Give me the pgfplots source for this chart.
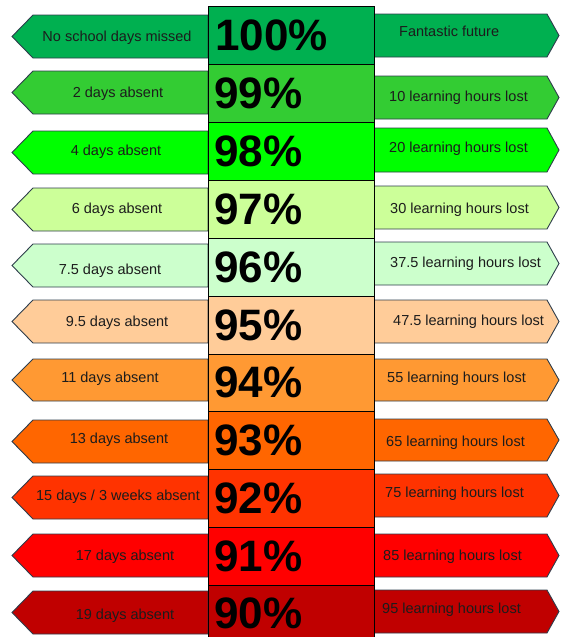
\documentclass[border=0pt]{standalone}
\usepackage{pgfplots}
\pgfplotsset{compat=1.18}
\usepackage{fontspec}
\setmainfont{Liberation Sans}
\definecolor{c0}{HTML}{00B050}
\definecolor{c1}{HTML}{33CC33}
\definecolor{c2}{HTML}{00FF00}
\definecolor{c3}{HTML}{CCFF99}
\definecolor{c4}{HTML}{CCFFCC}
\definecolor{c5}{HTML}{FFCC99}
\definecolor{c6}{HTML}{FF9933}
\definecolor{c7}{HTML}{FF6600}
\definecolor{c8}{HTML}{FF3300}
\definecolor{c9}{HTML}{FF0000}
\definecolor{c10}{HTML}{C00000}
\definecolor{edge}{HTML}{2E3D4C}
\definecolor{txt}{HTML}{1C1C1C}
\tikzset{
  larr/.style={draw=edge, line width=0.9pt},
  cbox/.style={draw=black, line width=0.9pt},
  ltxt/.style={font=\fontsize{14.5}{15}\selectfont, text=txt, anchor=center, inner sep=0pt, text height=1.5ex, text depth=0.35ex, yshift=-1.8pt},
  rtxt/.style={font=\fontsize{14.5}{15}\selectfont, text=txt, anchor=west, inner sep=0pt, text height=1.5ex, text depth=0.35ex, yshift=-1.8pt},
  ptxt/.style={font=\fontsize{44}{44}\selectfont\bfseries, text=black, anchor=west, inner sep=0pt},
}
\begin{document}
\begin{tikzpicture}
\begin{axis}[
  width=560pt, height=637pt, scale only axis,
  xmin=0, xmax=560, ymin=0, ymax=637, y dir=reverse,
  hide axis, clip=true,
]
% ---- left arrows (days absent)
\addplot[larr, fill=c0]  coordinates {(12,36.5) (33,15) (208,15) (208,58) (33,58)} --cycle;
\addplot[larr, fill=c1]  coordinates {(12,92.5) (33,71) (208,71) (208,114) (33,114)} --cycle;
\addplot[larr, fill=c2]  coordinates {(12,152.5) (33,131) (208,131) (208,174) (33,174)} --cycle;
\addplot[larr, fill=c3]  coordinates {(12,209.5) (33,188) (208,188) (208,231) (33,231)} --cycle;
\addplot[larr, fill=c4]  coordinates {(12,265.5) (33,244) (208,244) (208,287) (33,287)} --cycle;
\addplot[larr, fill=c5]  coordinates {(12,321.5) (33,300) (208,300) (208,343) (33,343)} --cycle;
\addplot[larr, fill=c6]  coordinates {(12,380) (33,359) (208,359) (208,401) (33,401)} --cycle;
\addplot[larr, fill=c7]  coordinates {(12,441.5) (33,420) (208,420) (208,463) (33,463)} --cycle;
\addplot[larr, fill=c8]  coordinates {(12,497.5) (33,476) (208,476) (208,519) (33,519)} --cycle;
\addplot[larr, fill=c9]  coordinates {(12,555.5) (33,534) (208,534) (208,577) (33,577)} --cycle;
\addplot[larr, fill=c10] coordinates {(12,612.5) (33,591) (208,591) (208,634) (33,634)} --cycle;
% ---- right arrows (learning hours lost)
\addplot[larr, fill=c0]  coordinates {(374,14) (547,14) (559,35.5) (547,57) (374,57)} --cycle;
\addplot[larr, fill=c1]  coordinates {(374,76) (547,76) (559,97.5) (547,119) (374,119)} --cycle;
\addplot[larr, fill=c2]  coordinates {(374,128) (547,128) (559,150) (547,172) (374,172)} --cycle;
\addplot[larr, fill=c3]  coordinates {(374,186) (547,186) (559,207.5) (547,229) (374,229)} --cycle;
\addplot[larr, fill=c4]  coordinates {(374,242) (547,242) (559,263.5) (547,285) (374,285)} --cycle;
\addplot[larr, fill=c5]  coordinates {(374,300) (547,300) (559,321.5) (547,343) (374,343)} --cycle;
\addplot[larr, fill=c6]  coordinates {(374,359) (547,359) (559,380) (547,401) (374,401)} --cycle;
\addplot[larr, fill=c7]  coordinates {(374,419) (547,419) (559,440) (547,461) (374,461)} --cycle;
\addplot[larr, fill=c8]  coordinates {(374,474) (547,474) (559,495.5) (547,517) (374,517)} --cycle;
\addplot[larr, fill=c9]  coordinates {(374,534) (547,534) (559,555.5) (547,577) (374,577)} --cycle;
\addplot[larr, fill=c10] coordinates {(374,590) (547,590) (559,611.5) (547,633) (374,633)} --cycle;
% ---- central attendance boxes
\addplot[cbox, fill=c0]  coordinates {(208,6) (374,6) (374,64) (208,64)} --cycle;
\addplot[cbox, fill=c1]  coordinates {(208,64) (374,64) (374,122) (208,122)} --cycle;
\addplot[cbox, fill=c2]  coordinates {(208,122) (374,122) (374,180) (208,180)} --cycle;
\addplot[cbox, fill=c3]  coordinates {(208,180) (374,180) (374,238) (208,238)} --cycle;
\addplot[cbox, fill=c4]  coordinates {(208,238) (374,238) (374,296) (208,296)} --cycle;
\addplot[cbox, fill=c5]  coordinates {(208,296) (374,296) (374,354) (208,354)} --cycle;
\addplot[cbox, fill=c6]  coordinates {(208,354) (374,354) (374,411) (208,411)} --cycle;
\addplot[cbox, fill=c7]  coordinates {(208,411) (374,411) (374,469) (208,469)} --cycle;
\addplot[cbox, fill=c8]  coordinates {(208,469) (374,469) (374,527) (208,527)} --cycle;
\addplot[cbox, fill=c9]  coordinates {(208,527) (374,527) (374,585) (208,585)} --cycle;
\addplot[cbox, fill=c10] coordinates {(208,585) (374,585) (374,643) (208,643)} --cycle;
% ---- percentages
\node[ptxt] at (axis cs:215,35) {100\%};
\node[ptxt] at (axis cs:214,93) {99\%};
\node[ptxt] at (axis cs:214,151) {98\%};
\node[ptxt] at (axis cs:214,209) {97\%};
\node[ptxt] at (axis cs:214,267) {96\%};
\node[ptxt] at (axis cs:214,325) {95\%};
\node[ptxt] at (axis cs:214,382.5) {94\%};
\node[ptxt] at (axis cs:214,440) {93\%};
\node[ptxt] at (axis cs:214,498) {92\%};
\node[ptxt] at (axis cs:214,556) {91\%};
\node[ptxt] at (axis cs:214,613) {90\%};
% ---- left texts
\node[ltxt] at (axis cs:117,37) {No school days missed};
\node[ltxt] at (axis cs:118,93) {2 days absent};
\node[ltxt] at (axis cs:116,151) {4 days absent};
\node[ltxt] at (axis cs:117,209) {6 days absent};
\node[ltxt] at (axis cs:110,270) {7.5 days absent};
\node[ltxt] at (axis cs:117,322) {9.5 days absent};
\node[ltxt] at (axis cs:110,378) {11 days absent};
\node[ltxt] at (axis cs:119,439) {13 days absent};
\node[ltxt] at (axis cs:118,496) {15 days / 3 weeks absent};
\node[ltxt] at (axis cs:125,556) {17 days absent};
\node[ltxt] at (axis cs:125,615) {19 days absent};
% ---- right texts
\node[rtxt] at (axis cs:399,32) {Fantastic future};
\node[rtxt] at (axis cs:389,97) {10 learning hours lost};
\node[rtxt] at (axis cs:389,148) {20 learning hours lost};
\node[rtxt] at (axis cs:390,209) {30 learning hours lost};
\node[rtxt] at (axis cs:390,263) {37.5 learning hours lost};
\node[rtxt] at (axis cs:393,321) {47.5 learning hours lost};
\node[rtxt] at (axis cs:387,378) {55 learning hours lost};
\node[rtxt] at (axis cs:386,442) {65 learning hours lost};
\node[rtxt] at (axis cs:385,493) {75 learning hours lost};
\node[rtxt] at (axis cs:383,556) {85 learning hours lost};
\node[rtxt] at (axis cs:382,609) {95 learning hours lost};
\end{axis}
\pgfresetboundingbox
\path (current axis.south west) rectangle (current axis.north east);
\end{tikzpicture}
\end{document}
